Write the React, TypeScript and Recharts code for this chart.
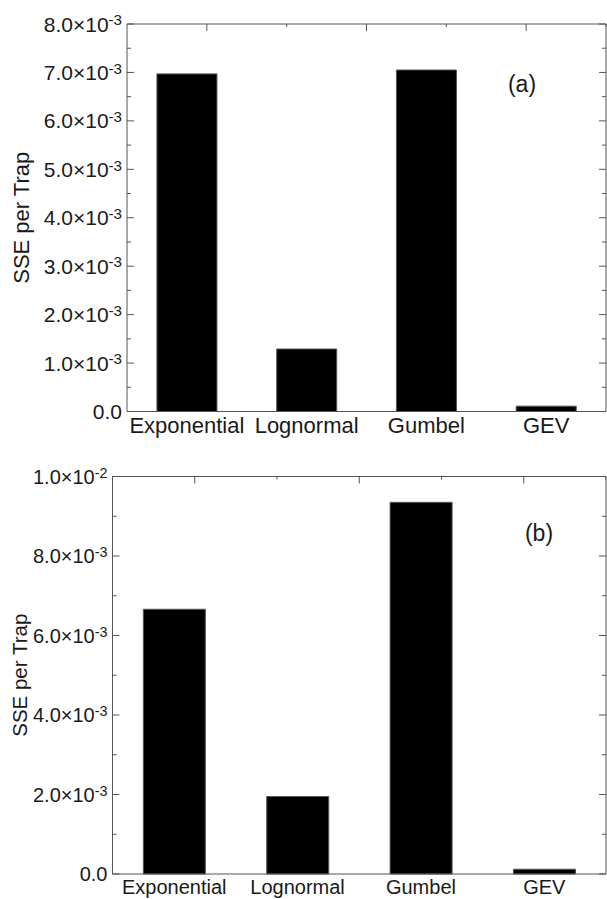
import { BarChart, Bar, XAxis, YAxis } from 'recharts';

const categories = ['Exponential', 'Lognormal', 'Gumbel', 'GEV'];
const sseA = [0.00697, 0.00129, 0.00705, 0.00011];
const sseB = [0.00666, 0.00195, 0.00935, 0.00012];

const yTicksA = [
  0, 0.0005, 0.001, 0.0015, 0.002, 0.0025, 0.003, 0.0035, 0.004,
  0.0045, 0.005, 0.0055, 0.006, 0.0065, 0.007, 0.0075, 0.008,
];
const yTicksB = [0, 0.001, 0.002, 0.003, 0.004, 0.005, 0.006, 0.007, 0.008, 0.009, 0.01];
// top frame ticks: band centres (major) and band edges (minor)
const frameTicks = [0.5, 1, 1.5, 2, 2.5, 3, 3.5];

const FONT = '"Liberation Sans", Arial, sans-serif';
const AXIS = '#555';
const TEXT = '#1a1a1a';

const isMajor = (v: number, step: number) => Math.abs(v / step - Math.round(v / step)) < 1e-6;

const sciParts = (v: number) => {
  if (v === 0) return null;
  const exp = Math.floor(Math.log10(v) + 1e-9);
  return { mant: (v / Math.pow(10, exp)).toFixed(1), exp };
};

const LeftTick = ({ x, y, payload, step, fs, gap }: any) => {
  const v = payload.value;
  const major = isMajor(v, step);
  const parts = sciParts(v);
  return (
    <g>
      <line x1={x} x2={x + (major ? 7 : 4)} y1={y} y2={y} stroke={AXIS} />
      {major && (
        <text x={x - gap} y={y + fs * 0.36} textAnchor="end" fontSize={fs} fontFamily={FONT} fill={TEXT}>
          {parts ? (
            <>
              <tspan>{parts.mant}×10</tspan>
              <tspan dy={-fs * 0.3} fontSize={fs * 0.72}>{parts.exp}</tspan>
            </>
          ) : (
            '0.0'
          )}
        </text>
      )}
    </g>
  );
};

const RightTick = ({ x, y, payload, step }: any) => {
  const major = isMajor(payload.value, step);
  return <line x1={x} x2={x - (major ? 7 : 4)} y1={y} y2={y} stroke={AXIS} />;
};

const TopTick = ({ x, y, payload }: any) => {
  const major = isMajor(payload.value - 0.5, 1);
  return <line x1={x} x2={x} y1={y} y2={y + (major ? 7 : 3)} stroke={AXIS} />;
};

const CatTick = ({ x, y, payload, fs, dy }: any) => (
  <text x={x} y={y + dy} textAnchor="middle" fontSize={fs} fontFamily={FONT} fill={TEXT}>
    {payload.value}
  </text>
);

interface PanelProps {
  values: number[];
  yMax: number;
  yTicks: number[];
  step: number;
  top: number;
  height: number;
  marginTop: number;
  yWidth: number;
  xHeight: number;
  tickFs: number;
  catFs: number;
  catDy: number;
  titleFs: number;
  titleX: number;
  tag: string;
  tagX: number;
  tagY: number;
}

function Panel(p: PanelProps) {
  const data = categories.map((name, i) => ({ name, sse: p.values[i] }));
  const plotMid = p.marginTop + (p.height - p.marginTop - p.xHeight) / 2;
  return (
    <div style={{ position: 'absolute', left: 0, top: p.top }}>
      <BarChart
        width={607}
        height={p.height}
        data={data}
        barCategoryGap="25%"
        margin={{ top: p.marginTop, right: 1, bottom: 0, left: 0 }}
      >
        <XAxis
          xAxisId="b"
          dataKey="name"
          height={p.xHeight}
          interval={0}
          tickSize={0}
          tickMargin={0}
          tickLine={false}
          axisLine={{ stroke: AXIS }}
          tick={(t: any) => <CatTick {...t} fs={p.catFs} dy={p.catDy} />}
        />
        <XAxis
          xAxisId="t"
          type="number"
          orientation="top"
          mirror
          domain={[0, 4]}
          allowDataOverflow
          ticks={frameTicks}
          interval={0}
          tickSize={0}
          tickMargin={0}
          tickLine={false}
          axisLine={{ stroke: AXIS }}
          tick={(t: any) => <TopTick {...t} />}
        />
        <YAxis
          yAxisId="l"
          type="number"
          width={p.yWidth}
          domain={[0, p.yMax]}
          ticks={p.yTicks}
          interval={0}
          tickSize={0}
          tickMargin={0}
          tickLine={false}
          axisLine={{ stroke: AXIS }}
          tick={(t: any) => <LeftTick {...t} step={p.step} fs={p.tickFs} gap={5} />}
        />
        <YAxis
          yAxisId="r"
          type="number"
          orientation="right"
          mirror
          domain={[0, p.yMax]}
          allowDataOverflow
          ticks={p.yTicks}
          interval={0}
          tickSize={0}
          tickMargin={0}
          tickLine={false}
          axisLine={{ stroke: AXIS }}
          tick={(t: any) => <RightTick {...t} step={p.step} />}
        />
        <Bar
          dataKey="sse"
          xAxisId="b"
          yAxisId="l"
          fill="#000"
          stroke="#555"
          strokeWidth={1}
          isAnimationActive={false}
        />
        <text
          x={p.titleX}
          y={plotMid}
          transform={`rotate(-90 ${p.titleX} ${plotMid})`}
          textAnchor="middle"
          fontSize={p.titleFs}
          fontFamily={FONT}
          fill={TEXT}
        >
          SSE per Trap
        </text>
        <text x={p.tagX} y={p.tagY} textAnchor="middle" fontSize={23} fontFamily={FONT} fill={TEXT}>
          {p.tag}
        </text>
      </BarChart>
    </div>
  );
}

export default function App() {
  return (
    <div style={{ position: 'absolute', left: 0, top: 0, width: 607, height: 899, background: '#fff', overflow: 'hidden' }}>
      <Panel
        values={sseA}
        yMax={0.008}
        yTicks={yTicksA}
        step={0.001}
        top={0}
        height={450}
        marginTop={24}
        yWidth={127}
        xHeight={38.5}
        tickFs={21}
        catFs={22}
        catDy={21.5}
        titleFs={22}
        titleX={29}
        tag="(a)"
        tagX={522}
        tagY={92}
      />
      <Panel
        values={sseB}
        yMax={0.01}
        yTicks={yTicksB}
        step={0.002}
        top={450}
        height={449}
        marginTop={26.5}
        yWidth={112.5}
        xHeight={25}
        tickFs={20}
        catFs={20}
        catDy={19.5}
        titleFs={20.5}
        titleX={26.5}
        tag="(b)"
        tagX={539}
        tagY={91}
      />
    </div>
  );
}
